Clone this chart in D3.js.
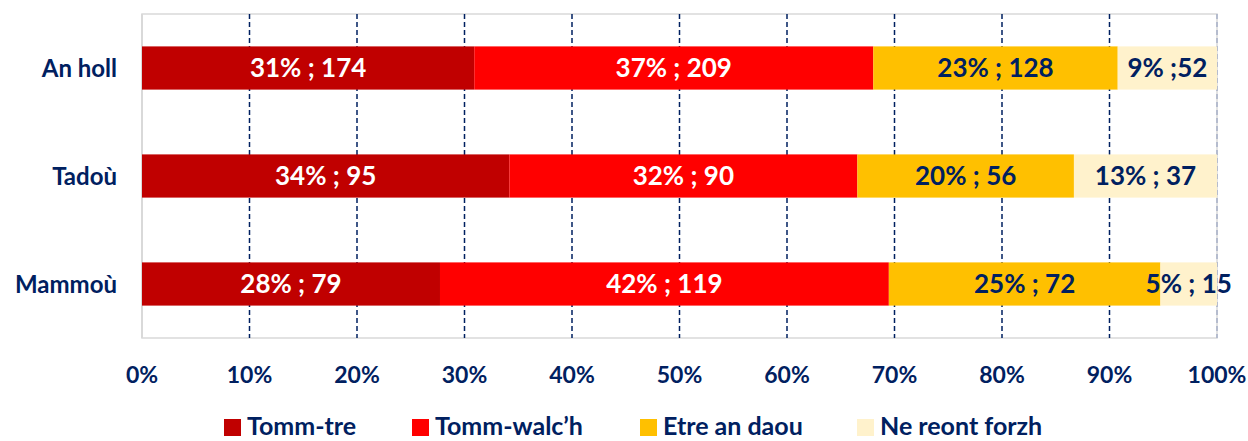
<!DOCTYPE html>
<html>
<head>
<meta charset="utf-8">
<script src="https://cdn.jsdelivr.net/npm/d3@7"></script>
<style>
  body { margin: 0; background: #fff; }
  svg text { font-family: Lato, "Open Sans", sans-serif; font-weight: 700; }
</style>
</head>
<body>
<div id="chart"></div>
<script>
// categories, top to bottom
const groups = ["An holl", "Tadoù", "Mammoù"];
const seriesNames = ["Tomm-tre", "Tomm-walc’h", "Etre an daou", "Ne reont forzh"];
const colors = ["#C00000", "#FF0000", "#FFC000", "#FFF2CC"];
const textColors = ["#FFFFFF", "#FFFFFF", "#002060", "#002060"];

// counts per group, in series order
const counts = [
    [174, 209, 128, 52],
    [95, 90, 56, 37],
    [79, 119, 72, 15]
];
// data labels as shown on the chart
const labels = [
    ["31% ; 174", "37% ; 209", "23% ; 128", "9% ;52"],
    ["34% ; 95", "32% ; 90", "20% ; 56", "13% ; 37"],
    ["28% ; 79", "42% ; 119", "25% ; 72", "5% ; 15"]
];
const tickValues = [0, 0.1, 0.2, 0.3, 0.4, 0.5, 0.6, 0.7, 0.8, 0.9, 1];

const width = 1248, height = 441;
const margin = {top: 14, right: 31, bottom: 103, left: 142};
const innerW = width - margin.left - margin.right;
const innerH = height - margin.top - margin.bottom;
const navy = "#002060";

const svg = d3.select("#chart").append("svg")
    .attr("width", width)
    .attr("height", height);

const g = svg.append("g")
    .attr("transform", `translate(${margin.left},${margin.top})`);

const xScale = d3.scaleLinear().domain([0, 1]).range([0, innerW]);
const yScale = d3.scaleBand().domain(groups).range([0, innerH])
    .paddingInner(0.6).paddingOuter(0.3);

// stack the shares
const rows = groups.map((grp, i) => {
    const total = d3.sum(counts[i]);
    let acc = 0;
    return counts[i].map((c, k) => {
        const seg = {group: grp, k, x0: acc / total, x1: (acc + c) / total, label: labels[i][k]};
        acc += c;
        return seg;
    });
}).flat();

// plot border
g.append("rect")
    .attr("x", 0).attr("y", 0)
    .attr("width", innerW).attr("height", innerH)
    .attr("fill", "none")
    .attr("stroke", "#D9D9D9")
    .attr("stroke-width", 1.5);

// gridlines
g.selectAll(".grid")
    .data(tickValues.slice(1))
    .join("line")
    .attr("class", "grid")
    .attr("x1", d => xScale(d)).attr("x2", d => xScale(d))
    .attr("y1", 0).attr("y2", innerH)
    .attr("stroke", d => d === 1 ? "#A6B0C8" : navy)
    .attr("stroke-width", 1.5)
    .attr("stroke-dasharray", "5,3");

// left axis line
g.append("line")
    .attr("x1", 0).attr("x2", 0)
    .attr("y1", 0).attr("y2", innerH)
    .attr("stroke", "#D9D9D9")
    .attr("stroke-width", 2);

// bars
g.selectAll(".seg")
    .data(rows)
    .join("rect")
    .attr("class", "seg")
    .attr("x", d => xScale(d.x0))
    .attr("y", d => yScale(d.group))
    .attr("width", d => xScale(d.x1) - xScale(d.x0))
    .attr("height", yScale.bandwidth())
    .attr("fill", d => colors[d.k]);

// data labels
g.selectAll(".lbl")
    .data(rows)
    .join("text")
    .attr("class", "lbl")
    .attr("x", d => xScale((d.x0 + d.x1) / 2))
    .attr("y", d => yScale(d.group) + yScale.bandwidth() / 2)
    .attr("dy", "0.36em")
    .attr("text-anchor", "middle")
    .attr("fill", d => textColors[d.k])
    .style("font-size", "26px")
    .text(d => d.label);

// category labels
g.selectAll(".cat")
    .data(groups)
    .join("text")
    .attr("class", "cat")
    .attr("x", -25)
    .attr("y", d => yScale(d) + yScale.bandwidth() / 2)
    .attr("dy", "0.36em")
    .attr("text-anchor", "end")
    .attr("fill", navy)
    .style("font-size", "24px")
    .text(d => d);

// x tick labels
g.selectAll(".tick-lbl")
    .data(tickValues)
    .join("text")
    .attr("class", "tick-lbl")
    .attr("x", d => xScale(d))
    .attr("y", innerH + 45)
    .attr("text-anchor", "middle")
    .attr("fill", navy)
    .style("font-size", "23px")
    .text(d3.format(".0%"));

// legend
const legendX = [224, 412, 640, 857];
const legend = svg.selectAll(".legend")
    .data(seriesNames)
    .join("g")
    .attr("class", "legend")
    .attr("transform", (d, i) => `translate(${legendX[i]},419)`);

legend.append("rect")
    .attr("width", 17).attr("height", 17)
    .attr("fill", (d, i) => colors[i]);

legend.append("text")
    .attr("x", 23)
    .attr("y", 16)
    .attr("fill", navy)
    .style("font-size", "25px")
    .text(d => d);
</script>
</body>
</html>
